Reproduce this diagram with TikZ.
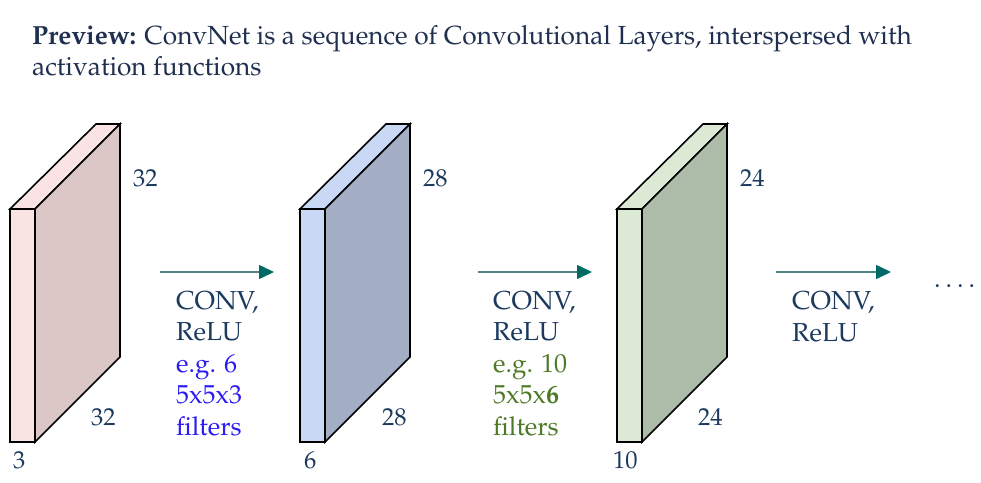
\documentclass[tikz,border=0pt]{standalone}
\usepackage[T1]{fontenc}
\usepackage{mathpazo}
\usetikzlibrary{arrows.meta}
\definecolor{navy}{HTML}{1B3A5E}
\definecolor{titlec}{HTML}{1F2F4F}
\definecolor{egblue}{HTML}{2B1BF5}
\definecolor{eggreen}{HTML}{4E7A27}
\definecolor{arrline}{HTML}{4D8585}
\definecolor{arrhead}{HTML}{006A66}
\definecolor{pinkfront}{HTML}{F9E3E3}
\definecolor{pinkside}{HTML}{DCC7C7}
\definecolor{bluefront}{HTML}{C9D9F5}
\definecolor{blueside}{HTML}{A4AFC6}
\definecolor{greenfront}{HTML}{DCE9D5}
\definecolor{greenside}{HTML}{ADBCA9}
\newcommand\drawslab[4]{%
  \draw[slab,fill=#4] (#1,209) -- ({#1+86},124) -- ({#1+110},124) -- ({#1+25},209) -- cycle;
  \draw[slab,fill=#3] ({#1+25},209) -- ({#1+110},124) -- ({#1+110},357) -- ({#1+25},442) -- cycle;
  \draw[slab,fill=#2] (#1,209) rectangle ({#1+25},442);
}
\begin{document}
\begin{tikzpicture}[x=1pt,y=-1pt,
  slab/.style={draw=black,line width=1.6pt,line join=miter},
  num/.style={anchor=base west,inner sep=0pt,text=navy,font=\fontsize{24.5}{28}\selectfont},
  lbl/.style={anchor=base west,inner sep=0pt,text=navy,align=left,font=\fontsize{26}{31.5}\selectfont},
  conn/.style={draw=arrline,line width=1.5pt,-{Triangle[length=15pt,width=14pt,color=arrhead]}}]
\useasboundingbox (0,0) rectangle (981,482);
\fill[white] (0,0) rectangle (981,482);

\node[anchor=base west,inner sep=0pt,text=titlec,align=left,font=\fontsize{26.2}{31}\selectfont] (title) at (32,75)
  {\textbf{Preview:} ConvNet is a sequence of Convolutional Layers, interspersed with\\activation functions};

\drawslab{10}{pinkfront}{pinkside}{pinkfront}
\drawslab{300}{bluefront}{blueside}{bluefront}
\drawslab{617}{greenfront}{greenside}{greenfront}

\node[num] (n1a) at (133,186) {32};
\node[num] (n1b) at (91,425) {32};
\node[num] (n1c) at (13,468) {3};
\node[num] (n2a) at (423,186) {28};
\node[num] (n2b) at (382,425) {28};
\node[num] (n2c) at (304,468) {6};
\node[num] (n3a) at (740,186) {24};
\node[num] (n3b) at (698,425) {24};
\node[num] (n3c) at (613,468) {10};

\coordinate (a1s) at (160,272); \coordinate (a1e) at (274,272);
\coordinate (a2s) at (478,272); \coordinate (a2e) at (592,272);
\coordinate (a3s) at (776,272); \coordinate (a3e) at (891,272);
\draw[conn] (a1s) -- (a1e);
\draw[conn] (a2s) -- (a2e);
\draw[conn] (a3s) -- (a3e);

\node[lbl] (l1) at (176,435) {CONV,\\ReLU\\\textcolor{egblue}{e.g. 6}\\\textcolor{egblue}{5x5x3}\\\textcolor{egblue}{filters}};
\node[lbl] (l2) at (493,435) {CONV,\\ReLU\\\textcolor{eggreen}{e.g. 10}\\\textcolor{eggreen}{5x5x\textbf{6}}\\\textcolor{eggreen}{filters}};
\node[lbl] (l3) at (792,341) {CONV,\\ReLU};
\node[lbl] (dots) at (934,287) {.\hspace{5pt}.\hspace{5pt}.\hspace{5pt}.};
\end{tikzpicture}
\end{document}
